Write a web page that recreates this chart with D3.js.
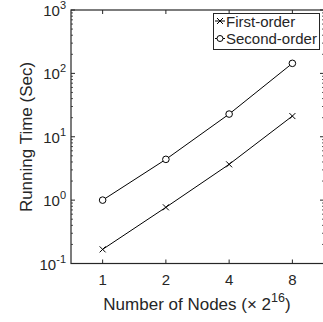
<!DOCTYPE html>
<html>
<head>
<meta charset="utf-8">
<script src="https://cdn.jsdelivr.net/npm/d3@7"></script>
<style>
  body { margin: 0; background: #fff; }
  svg { display: block; font-family: "Liberation Sans", Arial, sans-serif; }
</style>
</head>
<body>
<div id="chart"></div>
<script>
// data
const nodes = [1, 2, 4, 8];
const firstOrder = [0.167, 0.77, 3.67, 21.2];
const secondOrder = [1.0, 4.4, 22.8, 144];
const seriesNames = ["First-order", "Second-order"];
const yTickExps = [-1, 0, 1, 2, 3];

const W = 323, H = 322;
const mLeft = 71, mRight = 324, mTop = 10, mBottom = 263.5;
const ink = "#262626";

const svg = d3.select("#chart").append("svg")
  .attr("width", W).attr("height", H);

const x = d3.scaleLog().base(2)
  .domain([Math.SQRT1_2, 8 * Math.SQRT2])
  .range([mLeft, mRight]);
const y = d3.scaleLog()
  .domain([0.1, 1000])
  .range([mBottom, mTop]);

// minor ticks for log y
const minor = [];
yTickExps.slice(0, -1).forEach(e => {
  for (let k = 2; k <= 9; k++) minor.push(k * Math.pow(10, e));
});

// frame ticks: left & right (y), bottom & top (x)
const g = svg.append("g");
g.selectAll(".ymaj").data(yTickExps).enter().append("line")
  .attr("x1", mLeft).attr("x2", mLeft + 4)
  .attr("y1", d => y(Math.pow(10, d))).attr("y2", d => y(Math.pow(10, d)))
  .attr("stroke", ink);
g.selectAll(".ymajr").data(yTickExps).enter().append("line")
  .attr("x1", mRight).attr("x2", mRight - 4)
  .attr("y1", d => y(Math.pow(10, d))).attr("y2", d => y(Math.pow(10, d)))
  .attr("stroke", ink);
g.selectAll(".ymin").data(minor).enter().append("line")
  .attr("x1", mLeft).attr("x2", mLeft + 2)
  .attr("y1", d => y(d)).attr("y2", d => y(d))
  .attr("stroke", ink).attr("stroke-width", 0.8);
g.selectAll(".yminr").data(minor).enter().append("line")
  .attr("x1", mRight).attr("x2", mRight - 2)
  .attr("y1", d => y(d)).attr("y2", d => y(d))
  .attr("stroke", ink).attr("stroke-width", 0.8);
g.selectAll(".xb").data(nodes).enter().append("line")
  .attr("x1", d => x(d)).attr("x2", d => x(d))
  .attr("y1", mBottom).attr("y2", mBottom - 4)
  .attr("stroke", ink);
g.selectAll(".xt").data(nodes).enter().append("line")
  .attr("x1", d => x(d)).attr("x2", d => x(d))
  .attr("y1", mTop).attr("y2", mTop + 4)
  .attr("stroke", ink);

// axes box
svg.append("rect")
  .attr("x", mLeft).attr("y", mTop)
  .attr("width", mRight - mLeft).attr("height", mBottom - mTop)
  .attr("fill", "none").attr("stroke", ink).attr("stroke-width", 1.2);

// y tick labels 10^n
const yl = svg.selectAll(".ylab").data(yTickExps).enter().append("text")
  .attr("x", 66).attr("y", d => y(Math.pow(10, d)) + 6)
  .attr("text-anchor", "end")
  .attr("font-size", 15).attr("fill", ink);
yl.append("tspan").text("10");
yl.append("tspan").attr("dy", -7).attr("font-size", 11).text(d => d);

// x tick labels
svg.selectAll(".xlab").data(nodes).enter().append("text")
  .attr("x", d => x(d)).attr("y", 284.5)
  .attr("text-anchor", "middle")
  .attr("font-size", 15).attr("fill", ink)
  .text(d => d);

// axis titles
const xt = svg.append("text")
  .attr("x", 197).attr("y", 310)
  .attr("text-anchor", "middle")
  .attr("font-size", 17).attr("fill", ink);
xt.append("tspan").text("Number of Nodes (\u00d7 2");
xt.append("tspan").attr("dy", -8).attr("font-size", 12.5).text("16");
xt.append("tspan").attr("dy", 8).text(")");

svg.append("text")
  .attr("transform", "translate(32,137) rotate(-90)")
  .attr("text-anchor", "middle")
  .attr("font-size", 17).attr("fill", ink)
  .text("Running Time (Sec)");

// series
const line = d3.line().x(d => x(d[0])).y(d => y(d[1]));
const s1 = nodes.map((n, i) => [n, firstOrder[i]]);
const s2 = nodes.map((n, i) => [n, secondOrder[i]]);

function cross(sel, cx, cy, r) {
  sel.append("path")
    .attr("d", `M${cx - r},${cy - r}L${cx + r},${cy + r}M${cx - r},${cy + r}L${cx + r},${cy - r}`)
    .attr("stroke", "#000").attr("stroke-width", 1).attr("fill", "none");
}

svg.append("path").datum(s1).attr("d", line)
  .attr("fill", "none").attr("stroke", "#000").attr("stroke-width", 1);
svg.append("path").datum(s2).attr("d", line)
  .attr("fill", "none").attr("stroke", "#000").attr("stroke-width", 1);

s1.forEach(d => cross(svg, x(d[0]), y(d[1]), 3));
svg.selectAll(".c2").data(s2).enter().append("circle")
  .attr("cx", d => x(d[0])).attr("cy", d => y(d[1])).attr("r", 3.3)
  .attr("fill", "#fff").attr("stroke", "#000").attr("stroke-width", 1);

// legend
const lg = svg.append("g");
lg.append("rect")
  .attr("x", 213.5).attr("y", 13.5).attr("width", 106).attr("height", 36)
  .attr("fill", "#fff").attr("stroke", ink).attr("stroke-width", 1);
seriesNames.forEach((name, i) => {
  const ly = 21 + i * 17.5;
  lg.append("line").attr("x1", 215).attr("x2", 225).attr("y1", ly).attr("y2", ly)
    .attr("stroke", "#000");
  if (i === 0) cross(lg, 220, ly, 3);
  else lg.append("circle").attr("cx", 220).attr("cy", ly).attr("r", 3)
    .attr("fill", "#fff").attr("stroke", "#000");
  lg.append("text").attr("x", 226).attr("y", ly + 5.5)
    .attr("font-size", 15).attr("fill", ink).text(name);
});
</script>
</body>
</html>
